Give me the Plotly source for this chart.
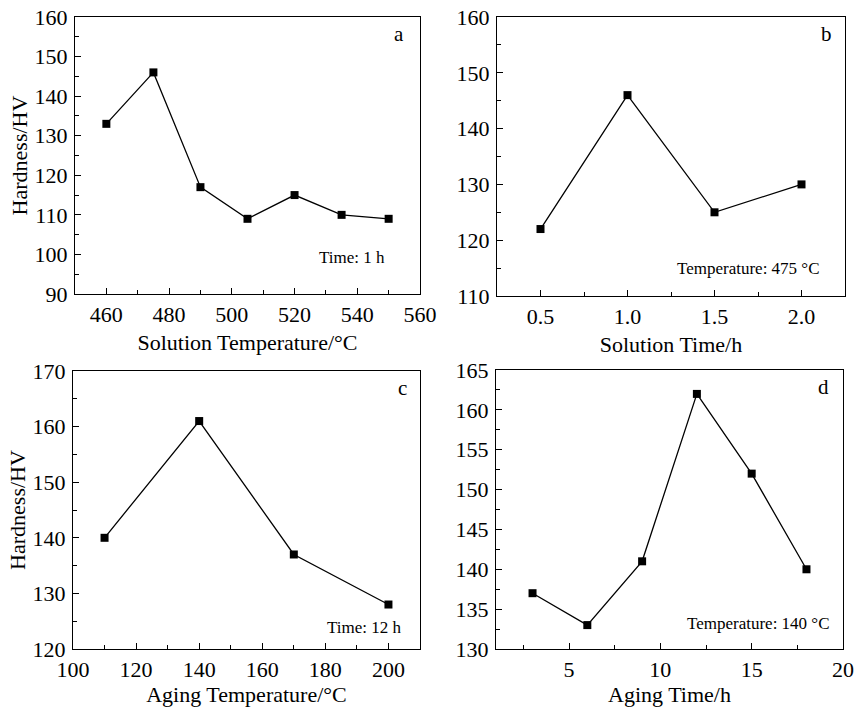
import plotly.graph_objects as go

W, H = 854, 707

# ---- data ----
sol_temp = [460, 475, 490, 505, 520, 535, 550]
hv_sol_temp = [133, 146, 117, 109, 115, 110, 109]

sol_time = [0.5, 1.0, 1.5, 2.0]
hv_sol_time = [122, 146, 125, 130]

age_temp = [110, 140, 170, 200]
hv_age_temp = [140, 161, 137, 128]

age_time = [3, 6, 9, 12, 15, 18]
hv_age_time = [137, 133, 141, 162, 152, 140]

x_titles = ["Solution Temperature/°C", "Solution Time/h", "Aging Temperature/°C", "Aging Time/h"]
panel_labels = ["a", "b", "c", "d"]
notes = ["Time: 1 h", "Temperature: 475 °C", "Time: 12 h", "Temperature: 140 °C"]

FONT = "Liberation Serif"

def px_dom_x(a, b):
    return [a / W, b / W]

def px_dom_y(top, bottom):
    return [1 - bottom / H, 1 - top / H]

panels = [
    dict(x=sol_temp, y=hv_sol_temp, xd=px_dom_x(75, 420), yd=px_dom_y(17, 294),
         xr=[450, 560], xt0=460, xdt=20, xm=10, yr=[90, 160], ydt=10, ym=5, xfmt=None,
         ytitle="Hardness/HV", lab=(0.94, 0.94), note=(0.905, 0.13)),
    dict(x=sol_time, y=hv_sol_time, xd=px_dom_x(497, 845), yd=px_dom_y(17, 296),
         xr=[0.25, 2.25], xt0=0.5, xdt=0.5, xm=0.25, yr=[110, 160], ydt=10, ym=5, xfmt=".1f",
         ytitle="", lab=(0.947, 0.94), note=(0.933, 0.097)),
    dict(x=age_temp, y=hv_age_temp, xd=px_dom_x(73, 420), yd=px_dom_y(371, 649),
         xr=[100, 210], xt0=100, xdt=20, xm=10, yr=[120, 170], ydt=10, ym=5, xfmt=None,
         ytitle="Hardness/HV", lab=(0.95, 0.94), note=(0.954, 0.078)),
    dict(x=age_time, y=hv_age_time, xd=px_dom_x(496, 843), yd=px_dom_y(370, 649),
         xr=[1, 20], xt0=0, xdt=5, xm=2.5, yr=[130, 165], ydt=5, ym=2.5, xfmt=None,
         ytitle="", lab=(0.943, 0.94), note=(0.967, 0.09)),
]

fig = go.Figure()
layout = dict(
    width=W, height=H, autosize=False,
    margin=dict(l=0, r=0, t=0, b=0, pad=0),
    paper_bgcolor="white", plot_bgcolor="white",
    showlegend=False,
    font=dict(family=FONT, color="black", size=22),
    annotations=[],
)

for i, p in enumerate(panels):
    n = "" if i == 0 else str(i + 1)
    xa, ya = "x" + n, "y" + n
    fig.add_trace(go.Scatter(
        x=p["x"], y=p["y"], xaxis=xa, yaxis=ya, mode="lines+markers",
        line=dict(color="black", width=1.3),
        marker=dict(symbol="square", size=8, color="black"),
    ))
    common = dict(showline=True, linecolor="black", linewidth=1.2, mirror=True,
                  showgrid=False, zeroline=False, ticks="inside", ticklen=6,
                  tickwidth=1, tickcolor="black", automargin=False,
                  tickfont=dict(family=FONT, size=22, color="black"))
    xaxis = dict(common, domain=p["xd"], anchor=ya, range=p["xr"], tick0=p["xt0"],
                 dtick=p["xdt"],
                 minor=dict(ticks="inside", ticklen=3.5, dtick=p["xm"], tick0=p["xt0"],
                            tickcolor="black", showgrid=False),
                 title=dict(text=x_titles[i], font=dict(family=FONT, size=22), standoff=9))
    if p["xfmt"]:
        xaxis["tickformat"] = p["xfmt"]
    yaxis = dict(common, domain=p["yd"], anchor=xa, range=p["yr"], dtick=p["ydt"],
                 tick0=p["yr"][0],
                 minor=dict(ticks="inside", ticklen=3.5, dtick=p["ym"], tick0=p["yr"][0],
                            tickcolor="black", showgrid=False),
                 ticklabelstandoff=2)
    if p["ytitle"]:
        yaxis["title"] = dict(text=p["ytitle"], font=dict(family=FONT, size=22), standoff=0)
    layout["xaxis" + n] = xaxis
    layout["yaxis" + n] = yaxis
    layout["annotations"].append(dict(
        text=panel_labels[i], xref=xa + " domain", yref=ya + " domain",
        x=p["lab"][0], y=p["lab"][1], xanchor="center", yanchor="middle",
        showarrow=False, font=dict(family=FONT, size=21, color="black")))
    layout["annotations"].append(dict(
        text=notes[i], xref=xa + " domain", yref=ya + " domain",
        x=p["note"][0], y=p["note"][1], xanchor="right", yanchor="middle",
        showarrow=False, font=dict(family=FONT, size=17, color="black")))

fig.update_layout(**layout)
fig.write_html("out.html",
               config={"displayModeBar": False},
               post_script="document.body.style.margin='0';document.body.style.overflow='hidden';")
